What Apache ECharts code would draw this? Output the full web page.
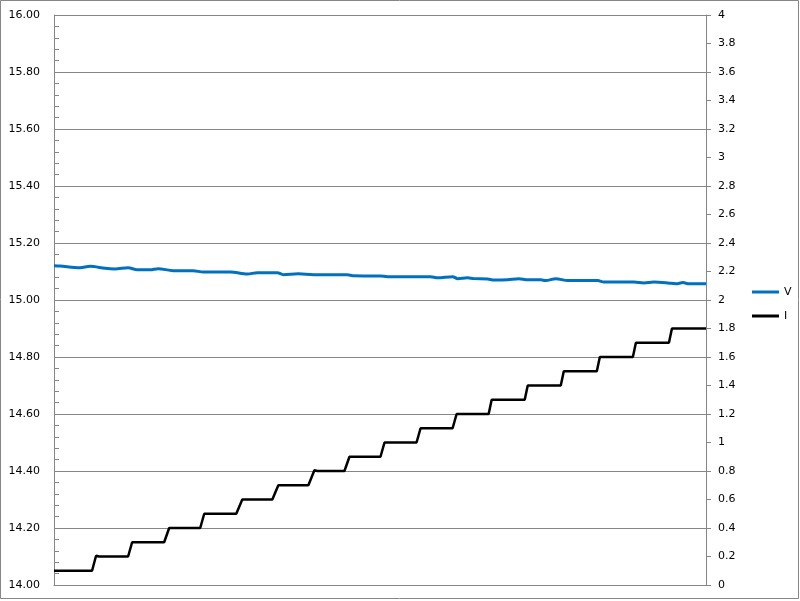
<!DOCTYPE html>
<html>
<head>
<meta charset="utf-8">
<script src="https://cdn.jsdelivr.net/npm/echarts@6/dist/echarts.min.js"></script>
<style>
html,body{margin:0;padding:0;background:#fff;}
#c{width:800px;height:601px;}
</style>
</head>
<body>
<div id="c"></div>
<script>
// time (s) and voltage samples
var vTime = [0,6,26,36,51,61,74,83,96,104,119,139,149,176,193,203,223,229,244,259,293,299,326,333,376,383,398,403,413,419,433,439,453,464,473,486,491,501,513,543,549,579,589,599,613,621,628,634,651];
var vValues = [15.120,15.119,15.113,15.118,15.111,15.109,15.113,15.106,15.106,15.110,15.103,15.103,15.098,15.098,15.091,15.096,15.096,15.089,15.092,15.089,15.089,15.085,15.084,15.082,15.082,15.078,15.082,15.075,15.078,15.075,15.074,15.070,15.071,15.075,15.071,15.071,15.068,15.075,15.068,15.068,15.063,15.063,15.060,15.063,15.060,15.057,15.061,15.057,15.057];
// time (s) and current samples (step corners)
var iTime = [0,38,42,45,50,74,78,110,115,146,150,182,188,218,224,254,260,263,290,295,326,330,362,366,398,402,434,437,470,473,506,509,542,545,578,581,614,617,651];
var iValues = [0.1,0.1,0.205,0.2,0.2,0.2,0.3,0.3,0.4,0.4,0.5,0.5,0.6,0.6,0.7,0.7,0.805,0.8,0.8,0.9,0.9,1.0,1.0,1.1,1.1,1.2,1.2,1.3,1.3,1.4,1.4,1.5,1.5,1.6,1.6,1.7,1.7,1.8,1.8];
var seriesNames = ['V','I'];

function pairs(t, v){ var out=[]; for(var k=0;k<t.length;k++){ out.push([t[k], v[k]]); } return out; }

var chart = echarts.init(document.getElementById('c'));
var gray = '#868686';
var font = 'DejaVu Sans';
chart.setOption({
  animation:false,
  backgroundColor:'#fff',
  graphic:[{type:'rect', shape:{x:0.5,y:0.5,width:798,height:598}, style:{fill:'none',stroke:gray,lineWidth:1}, silent:true}],
  grid:{left:54,right:94,top:15,bottom:16,containLabel:false},
  legend:{
    orient:'vertical', left:747, top:280,
    icon:'rect', itemWidth:27, itemHeight:3, itemGap:10,
    textStyle:{fontFamily:font,fontSize:11,color:'#000',lineHeight:14},
    data:seriesNames
  },
  xAxis:{type:'value',min:0,max:651,
    axisLine:{show:true,lineStyle:{color:gray,width:1}},
    axisTick:{show:false},axisLabel:{show:false},splitLine:{show:false}},
  yAxis:[
    {type:'value',min:14,max:16,interval:0.2,position:'left',
      axisLine:{show:true,onZero:false,lineStyle:{color:gray,width:1}},
      axisTick:{show:true,inside:true,length:5,lineStyle:{color:gray}},
      minorTick:{show:true,splitNumber:5,length:5,lineStyle:{color:gray}},
      axisLabel:{margin:14,fontFamily:font,fontSize:11,color:'#000',formatter:function(v){return v.toFixed(2);}},
      splitLine:{show:true,lineStyle:{color:gray,width:1}}},
    {type:'value',min:0,max:4,interval:0.2,position:'right',
      axisLine:{show:true,onZero:false,lineStyle:{color:gray,width:1}},
      axisTick:{show:true,inside:false,length:5,lineStyle:{color:gray}},
      axisLabel:{margin:12,fontFamily:font,fontSize:11,color:'#000',formatter:function(v){return String(Math.round(v*10)/10);}},
      splitLine:{show:false}}
  ],
  series:[
    {name:'V',type:'line',yAxisIndex:0,data:pairs(vTime,vValues),showSymbol:false,symbol:'none',smooth:0.3,
      lineStyle:{color:'#0070C0',width:3},itemStyle:{color:'#0070C0'}},
    {name:'I',type:'line',yAxisIndex:1,data:pairs(iTime,iValues),showSymbol:false,symbol:'none',
      lineStyle:{color:'#000',width:2.5},itemStyle:{color:'#000'}}
  ]
});
</script>
</body>
</html>
